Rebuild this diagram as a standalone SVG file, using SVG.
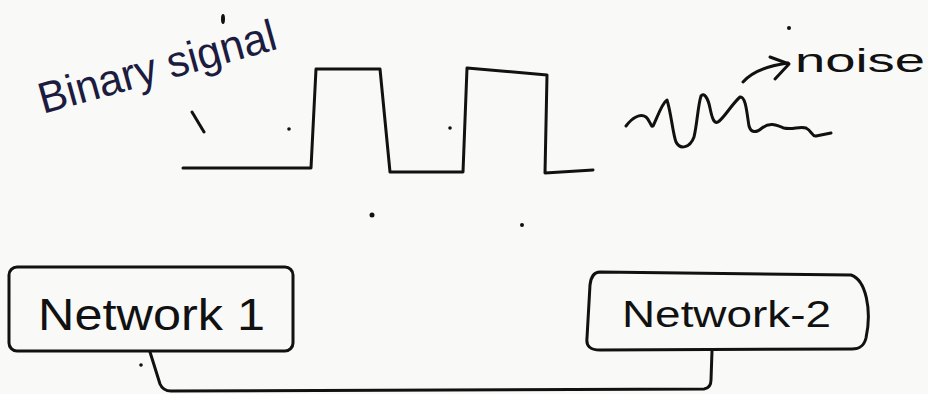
<svg xmlns="http://www.w3.org/2000/svg" width="928" height="394" viewBox="0 0 928 394">
<style>
.ink{fill:none;stroke:#111;stroke-width:3;stroke-linecap:round;stroke-linejoin:round}
.box{fill:none;stroke:#111;stroke-width:3}
.lbl{font-family:"Liberation Sans","DejaVu Sans",sans-serif;fill:#111}
.dot{fill:#111}
</style>
<rect width="928" height="394" fill="#f9f9f8"/>
<g id="binary-signal">
<text class="lbl" x="0" y="0" font-size="44" style="fill:#1c1c40" textLength="245" lengthAdjust="spacingAndGlyphs" transform="translate(43,114) rotate(-15.5)">Binary signal</text>
<path class="ink" d="M192,112 L204,132"/>
<path class="ink" d="M183,168 L311,168 L316,69 L380,69 L390,172 L463,172 L467,68 L547,75 L545,173 L593,170"/>
</g>
<g id="noise">
<path class="ink" d="M626,126 C632,118 640,113 646,117 C650,120 651,128 653,126 C657,118 662,103 667,100 C671,112 673,135 676,142 C680,150 690,148 694,137 C697,125 698,105 701,96 C704,92 708,98 710,108 C712,118 714,124 718,122 C724,118 732,104 740,97 C746,96 747,115 749,126 C751,133 756,133 762,128 C770,122 776,125 784,128 C792,130 800,126 806,128 C812,131 812,137 816,136 L831,133"/>
<path class="ink" d="M743,82 C752,72 766,66 788,63"/>
<path class="ink" d="M770,57 L789,64 L775,79"/>
<text class="lbl" x="795" y="72" font-size="34" textLength="130" lengthAdjust="spacingAndGlyphs">noise</text>
</g>
<g id="network-1">
<rect class="box" x="9" y="267" width="284" height="84" rx="8"/>
<text class="lbl" x="38" y="330" font-size="45" textLength="227" lengthAdjust="spacingAndGlyphs">Network 1</text>
</g>
<g id="network-2">
<path class="box" d="M600,272 L851,275 C866,280 872,310 866,338 C864,346 860,349 852,349 L600,350 C590,350 586,346 587,338 L590,285 C591,276 594,272 600,272 Z"/>
<text class="lbl" x="622" y="327" font-size="36" textLength="209" lengthAdjust="spacingAndGlyphs">Network-2</text>
</g>
<g id="connectors">
<path class="ink" d="M150,352 L160,384 Q163,391 171,391 L704,389 Q711,388 711,380 L712,351"/>
</g>
<g id="marks">
<ellipse class="dot" cx="223" cy="19" rx="2" ry="5"/>
<circle class="dot" cx="372" cy="215" r="2.5"/>
<circle class="dot" cx="289" cy="129" r="1.8"/>
<circle class="dot" cx="450" cy="128" r="1.8"/>
<circle class="dot" cx="789" cy="28" r="2"/>
<circle class="dot" cx="522" cy="225" r="2"/>
<circle class="dot" cx="141" cy="365" r="1.8"/>
</g>
</svg>
